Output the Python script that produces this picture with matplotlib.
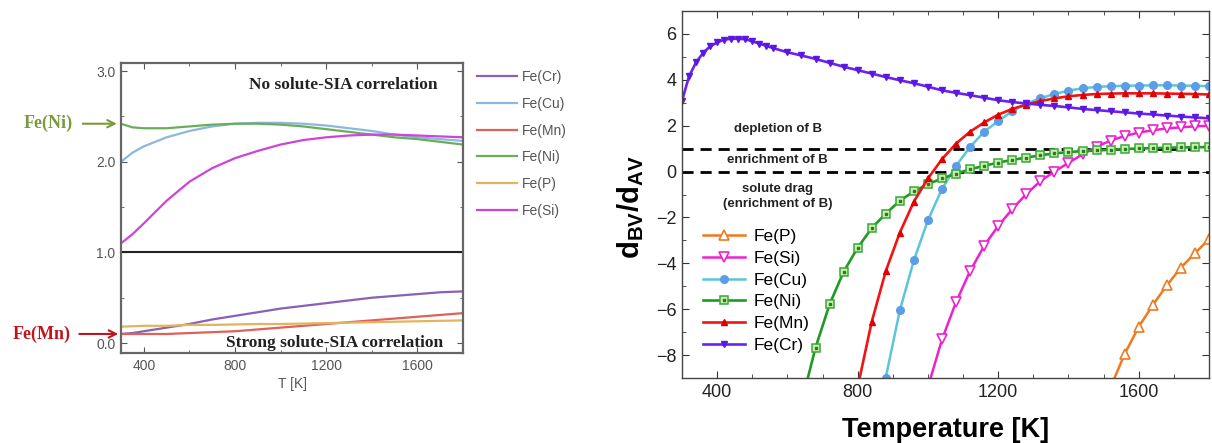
import matplotlib
matplotlib.use("Agg")
import matplotlib.pyplot as plt
from matplotlib.ticker import MultipleLocator

plt.rcParams['font.family'] = ['Liberation Sans', 'DejaVu Sans']
plt.rcParams['mathtext.fontset'] = 'custom'
plt.rcParams['mathtext.rm'] = 'Liberation Sans'
plt.rcParams['mathtext.bf'] = 'Liberation Sans:bold'

# ---- left panel data (ratio vs T) ----
T_left = [300, 350, 400, 500, 600, 700, 800, 900, 1000, 1100, 1200, 1300, 1400, 1500, 1600, 1700, 1800]
left_cr = [0.10, 0.11, 0.13, 0.17, 0.21, 0.26, 0.30, 0.34, 0.38, 0.41, 0.44, 0.47, 0.50, 0.52, 0.54, 0.56, 0.57]
left_cu = [2.00, 2.10, 2.17, 2.27, 2.34, 2.39, 2.42, 2.43, 2.43, 2.42, 2.40, 2.37, 2.34, 2.30, 2.27, 2.25, 2.23]
left_mn = [0.10, 0.10, 0.10, 0.10, 0.11, 0.12, 0.13, 0.15, 0.17, 0.19, 0.21, 0.23, 0.25, 0.27, 0.29, 0.31, 0.33]
left_ni = [2.42, 2.38, 2.37, 2.37, 2.39, 2.41, 2.42, 2.42, 2.41, 2.39, 2.36, 2.33, 2.30, 2.27, 2.25, 2.22, 2.19]
left_p = [0.18, 0.185, 0.19, 0.19, 0.20, 0.20, 0.205, 0.21, 0.21, 0.215, 0.22, 0.225, 0.23, 0.235, 0.24, 0.245, 0.25]
left_si = [1.10, 1.20, 1.32, 1.57, 1.78, 1.93, 2.04, 2.12, 2.19, 2.24, 2.27, 2.29, 2.30, 2.30, 2.29, 2.28, 2.27]

# ---- right panel data (dBV/dAV vs T) ----
T_cr = [300, 320, 340, 360, 380, 400, 420, 440, 460, 480, 500, 520, 540, 560,
        600, 640, 680, 720, 760, 800, 840, 880, 920, 960, 1000, 1040, 1080, 1120, 1160, 1200,
        1240, 1280, 1320, 1360, 1400, 1440, 1480, 1520, 1560, 1600, 1640, 1680, 1720, 1760, 1800]
d_cr = [3.08, 4.15, 4.76, 5.17, 5.46, 5.63, 5.75, 5.79, 5.79, 5.77, 5.68, 5.58, 5.48, 5.38,
        5.20, 5.06, 4.91, 4.74, 4.57, 4.42, 4.27, 4.12, 3.98, 3.85, 3.70, 3.54, 3.43, 3.33, 3.22, 3.11,
        3.03, 2.97, 2.91, 2.86, 2.80, 2.73, 2.68, 2.63, 2.58, 2.53, 2.49, 2.44, 2.40, 2.36, 2.32]

T_cu = [840, 880, 920, 960, 1000, 1040, 1080, 1120, 1160, 1200, 1240, 1280, 1320, 1360,
        1400, 1440, 1480, 1520, 1560, 1600, 1640, 1680, 1720, 1760, 1800]
d_cu = [-13.0, -8.98, -6.05, -3.87, -2.12, -0.76, 0.25, 1.07, 1.74, 2.20, 2.63, 2.96, 3.20, 3.38,
        3.53, 3.63, 3.69, 3.72, 3.74, 3.75, 3.76, 3.76, 3.75, 3.74, 3.72]

T_mn = [800, 840, 880, 920, 960, 1000, 1040, 1080, 1120, 1160, 1200, 1240, 1280, 1320, 1360,
        1400, 1440, 1480, 1520, 1560, 1600, 1640, 1680, 1720, 1760, 1800]
d_mn = [-9.4, -6.55, -4.34, -2.66, -1.31, -0.30, 0.54, 1.22, 1.74, 2.14, 2.48, 2.73, 2.92, 3.07, 3.19,
        3.28, 3.34, 3.38, 3.40, 3.41, 3.41, 3.41, 3.40, 3.39, 3.38, 3.36]

T_ni = [640, 680, 720, 760, 800, 840, 880, 920, 960, 1000, 1040, 1080, 1120, 1160, 1200, 1240,
        1280, 1320, 1360, 1400, 1440, 1480, 1520, 1560, 1600, 1640, 1680, 1720, 1760, 1800]
d_ni = [-10.1, -7.68, -5.79, -4.37, -3.32, -2.47, -1.83, -1.28, -0.86, -0.55, -0.30, -0.09, 0.10, 0.25, 0.39, 0.51,
        0.61, 0.71, 0.79, 0.85, 0.89, 0.92, 0.95, 0.98, 1.01, 1.02, 1.04, 1.05, 1.06, 1.07]

T_si = [1000, 1040, 1080, 1120, 1160, 1200, 1240, 1280, 1320, 1360, 1400, 1440, 1480, 1520,
        1560, 1600, 1640, 1680, 1720, 1760, 1800]
d_si = [-9.4, -7.32, -5.69, -4.34, -3.24, -2.37, -1.64, -0.98, -0.42, 0.0, 0.38, 0.75, 1.08, 1.35,
        1.55, 1.70, 1.80, 1.88, 1.93, 1.97, 2.00]

T_p = [1520, 1560, 1600, 1640, 1680, 1720, 1760, 1800]
d_p = [-9.4, -7.95, -6.77, -5.82, -4.96, -4.19, -3.56, -2.95]

fig = plt.figure(figsize=(12.12, 4.43), dpi=100)

# ================= left panel =================
ax1 = fig.add_axes([121/1212, 1-353/443, 342/1212, 290/443])
gray = '#555555'
ax1.plot(T_left, left_cr, color='#8a5fb5', lw=1.6, label='Fe(Cr)')
ax1.plot(T_left, left_cu, color='#8db7df', lw=1.6, label='Fe(Cu)')
ax1.plot(T_left, left_mn, color='#e0605a', lw=1.6, label='Fe(Mn)')
ax1.plot(T_left, left_ni, color='#6aae5a', lw=1.6, label='Fe(Ni)')
ax1.plot(T_left, left_p, color='#e2b45e', lw=1.6, label='Fe(P)')
ax1.plot(T_left, left_si, color='#cc44d8', lw=1.6, label='Fe(Si)')
ax1.axhline(1.0, color='#222222', lw=1.5)
ax1.set_xlim(300, 1800)
ax1.set_ylim(-0.11, 3.09)
ax1.xaxis.set_major_locator(MultipleLocator(400))
ax1.xaxis.set_minor_locator(MultipleLocator(200))
ax1.set_yticks([0, 1, 2, 3])
ax1.set_yticklabels(['0.0', '1.0', '2.0', '3.0'])
ax1.yaxis.set_minor_locator(MultipleLocator(0.5))
ax1.tick_params(which='both', direction='in', top=True, right=True, colors=gray,
                labelsize=10, labelcolor=gray, pad=4)
ax1.tick_params(which='major', length=4)
ax1.tick_params(which='minor', length=2.5)
for s in ax1.spines.values():
    s.set_color('#666666')
    s.set_linewidth(1.6)
ax1.set_xlabel('T [K]', color=gray, fontsize=10, labelpad=3)

leg1 = ax1.legend(loc='upper left', bbox_to_anchor=(477/1212, 1-70/443),
                  bbox_transform=fig.transFigure, frameon=False, fontsize=10,
                  handlelength=2.9, labelspacing=0.92, borderpad=0, borderaxespad=0,
                  handletextpad=0.35)
for t in leg1.get_texts():
    t.set_color(gray)

serif = ['Liberation Serif', 'DejaVu Serif']
ax1.text(0.65, 0.925, 'No solute-SIA correlation', transform=ax1.transAxes, ha='center',
         va='center', family=serif, fontweight='bold', fontsize=12.5, color='#222222')
ax1.text(0.625, 0.035, 'Strong solute-SIA correlation', transform=ax1.transAxes, ha='center',
         va='center', family=serif, fontweight='bold', fontsize=12.5, color='#222222')

ax1.annotate('Fe(Ni)', xy=(T_left[0], left_ni[0]), xytext=(-48, 0), textcoords='offset pixels',
             ha='right', va='center', family=serif, fontweight='bold', fontsize=13, color='#7a9a3c',
             annotation_clip=False,
             arrowprops=dict(arrowstyle='->', color='#7a9a3c', lw=1.5, shrinkA=5, shrinkB=3))
ax1.annotate('Fe(Mn)', xy=(T_left[0], left_mn[0]), xytext=(-50, 0), textcoords='offset pixels',
             ha='right', va='center', family=serif, fontweight='bold', fontsize=13, color='#c0141e',
             annotation_clip=False,
             arrowprops=dict(arrowstyle='->', color='#c0141e', lw=1.5, shrinkA=4, shrinkB=2))

# ================= right panel =================
ax2 = fig.add_axes([682/1212, 1-378/443, 527/1212, 367/443])
ax2.axhline(1.0, color='black', lw=2, ls=(0, (4, 2.5)))
ax2.axhline(0.0, color='black', lw=2, ls=(0, (4, 2.5)))

h_p, = ax2.plot(T_p, d_p, color='#f07a1e', lw=1.8, marker='^', ms=6.5, mfc='white',
                mec='#f07a1e', mew=1.2, label='Fe(P)')
h_si, = ax2.plot(T_si, d_si, color='#ee22cc', lw=1.8, marker='v', ms=6.5, mfc='white',
                 mec='#ee22cc', mew=1.2, label='Fe(Si)')
h_cu, = ax2.plot(T_cu, d_cu, color='#5cc6d8', lw=1.8, marker='o', ms=5.5, mfc='#5b9de6',
                 mec='#5b9de6', label='Fe(Cu)')
h_ni, = ax2.plot(T_ni, d_ni, color='#1f9a24', lw=1.9, marker='s', ms=5.5, mfc='#c9efa8',
                 mec='#3aa83a', mew=1.1, label='Fe(Ni)')
h_ni_dot, = ax2.plot(T_ni, d_ni, ls='none', marker='s', ms=1.6, color='#2a7a2a')
h_mn, = ax2.plot(T_mn, d_mn, color='#f01414', lw=1.9, marker='^', ms=5, mfc='#e00000',
                 mec='#e00000', label='Fe(Mn)')
h_cr, = ax2.plot(T_cr, d_cr, color='#6a22f0', lw=1.9, marker='v', ms=5, mfc='#5a18e0',
                 mec='#5a18e0', label='Fe(Cr)')

ax2.set_xlim(300, 1800)
ax2.set_ylim(-9, 7)
ax2.xaxis.set_major_locator(MultipleLocator(400))
ax2.xaxis.set_minor_locator(MultipleLocator(100))
ax2.yaxis.set_major_locator(MultipleLocator(2))
ax2.yaxis.set_minor_locator(MultipleLocator(1))
ax2.tick_params(which='both', direction='in', top=True, right=True, labelsize=13,
                colors='#333333', labelcolor='#222222', pad=4)
ax2.tick_params(which='major', length=5)
ax2.tick_params(which='minor', length=3)
for s in ax2.spines.values():
    s.set_color('#444444')
    s.set_linewidth(1.0)

ax2.set_xlabel('Temperature [K]', fontsize=19.5, fontweight='bold', labelpad=12)
ax2.set_ylabel(r'$\mathbf{d_{BV}/d_{AV}}$', fontsize=21)
ax2.yaxis.set_label_coords(-0.068, 0.466)

txt = dict(ha='center', va='center', fontsize=9.5, fontweight='bold', color='#222222')
ax2.text(572, 1.85, 'depletion of B', **txt)
ax2.text(572, 0.5, 'enrichment of B', **txt)
ax2.text(572, -1.08, 'solute drag\n(enrichment of B)', linespacing=1.35, **txt)

ax2.legend(handles=[h_p, h_si, h_cu, (h_ni, h_ni_dot), h_mn, h_cr],
           labels=['Fe(P)', 'Fe(Si)', 'Fe(Cu)', 'Fe(Ni)', 'Fe(Mn)', 'Fe(Cr)'],
           loc='upper left', bbox_to_anchor=(703/1212, 1-229/443), bbox_transform=fig.transFigure,
           frameon=False, fontsize=12.5, handlelength=2.4, labelspacing=0.38,
           borderpad=0, borderaxespad=0, handletextpad=0.5)

fig.savefig('out.png', dpi=100)
